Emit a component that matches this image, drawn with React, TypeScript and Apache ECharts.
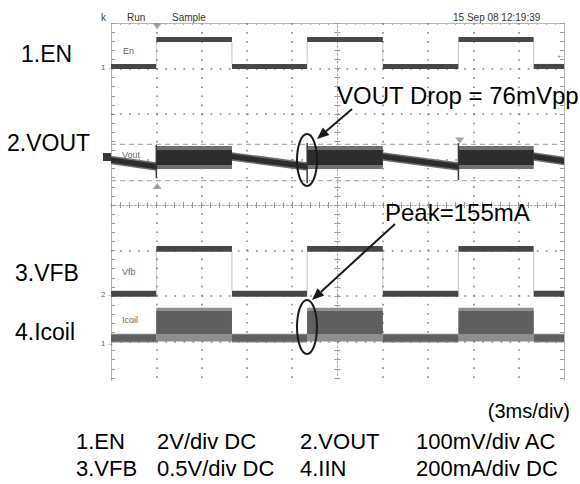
import React, { useEffect, useRef } from "react";
import * as echarts from "echarts";

// ---- data (x in divisions from screen centre, y in divisions from centre) ----
// switching edges (3 ms/div): EN high -> converter on
const edgeTimes = [-5, -4.0, -2.33, -0.67, 1.0, 2.67, 4.33, 5];
const levelStates = [0, 1, 0, 1, 0, 1, 0];

// trace levels as [top, bottom] of the noisy band
const enLow = [3.1, 2.99];
const enHigh = [3.69, 3.58];
const vfbLow = [-1.884, -2.015];
const vfbHigh = [-0.901, -1.026];
const icoilLowOuter = [-2.83, -3.02];
const icoilLowCore = [-2.85, -3.0];
const icoilHighOuter = [-2.26, -3.0];
const icoilHighCore = [-2.33, -2.835];

const voutSwitchOuter = [1.297, 0.791];
const voutSwitchCore = [1.209, 0.879];
// discharge slope: [xStart, levelStart, xEnd, levelEnd]
const voutDischarge = [
  [-5, 0.989, -4.0, 0.846],
  [-2.33, 1.066, -0.67, 0.846],
  [1.0, 1.066, 2.67, 0.846],
  [4.33, 1.066, 5, 0.967],
];
const voutHalfCore = 0.06;
const voutHalfOuter = 0.095;
// spikes at turn-on: [x, top, bottom]
const voutSpikes = [
  [-4.0, 1.32, 0.6],
  [-0.67, 1.36, 0.48],
  [2.67, 1.36, 0.55],
];
const cursorLevels = [1.334, 0.534];
const triggerMarks = [
  [-3.98, 3.93, 180],
  [-3.98, 0.42, 0],
  [2.7, 1.42, 180],
];
const gridDivX = [-4, -3, -2, -1, 1, 2, 3, 4];
const gridDivY = [3, 2, 1, -1, -2, -3];

const FONT = '"Liberation Sans", Arial, sans-serif';
const NARROW = '"Liberation Sans Narrow", "Liberation Sans", Arial, sans-serif';

function levelBands(low: number[], high: number[]) {
  const rows: number[][] = [];
  for (let i = 0; i < levelStates.length; i++) {
    const lv = levelStates[i] ? high : low;
    rows.push([edgeTimes[i], edgeTimes[i + 1], lv[0], lv[1], lv[0], lv[1]]);
  }
  return rows;
}
function highOnly(band: number[]) {
  const rows: number[][] = [];
  for (let i = 0; i < levelStates.length; i++) {
    if (levelStates[i]) rows.push([edgeTimes[i], edgeTimes[i + 1], band[0], band[1], band[0], band[1]]);
  }
  return rows;
}
function edgeRows(low: number[], high: number[]) {
  const rows: number[][] = [];
  for (let i = 1; i < edgeTimes.length - 1; i++) rows.push([edgeTimes[i], low[0], edgeTimes[i], high[1]]);
  return rows;
}
function dischargeRows(h: number) {
  return voutDischarge.map((d) => [d[0], d[2], d[1] + h, d[1] - h, d[3] + h, d[3] - h]);
}

function bandSeries(name: string, data: number[][], color: string, z: number) {
  return {
    type: "custom",
    name,
    data,
    z,
    silent: true,
    clip: true,
    renderItem: (_p: any, api: any) => {
      const a = api.coord([api.value(0), api.value(2)]);
      const b = api.coord([api.value(1), api.value(4)]);
      const c = api.coord([api.value(1), api.value(5)]);
      const d = api.coord([api.value(0), api.value(3)]);
      return { type: "polygon", shape: { points: [a, b, c, d] }, style: { fill: color } };
    },
  };
}
function segSeries(name: string, data: number[][], stroke: string, width: number, z: number, dash?: number[]) {
  return {
    type: "custom",
    name,
    data,
    z,
    silent: true,
    clip: false,
    renderItem: (_p: any, api: any) => {
      const p0 = api.coord([api.value(0), api.value(1)]);
      const p1 = api.coord([api.value(2), api.value(3)]);
      return {
        type: "line",
        shape: { x1: p0[0], y1: p0[1], x2: p1[0], y2: p1[1] },
        style: { stroke, lineWidth: width, lineDash: dash || null },
      };
    },
  };
}

function txt(text: string, x: number, y: number, size: number, fill: string, align = "left", family = FONT) {
  return {
    type: "text",
    x,
    y,
    z: 120,
    silent: true,
    style: {
      text,
      fill,
      font: `${size}px ${family}`,
      textAlign: align,
      textVerticalAlign: "middle",
      align,
      verticalAlign: "middle",
    },
  };
}
function arrow(x1: number, y1: number, x2: number, y2: number) {
  const dx = x2 - x1, dy = y2 - y1;
  const len = Math.sqrt(dx * dx + dy * dy);
  const ux = dx / len, uy = dy / len;
  const bx = x2 - 12 * ux, by = y2 - 12 * uy;
  const nx = -uy, ny = ux;
  return [
    { type: "line", z: 120, silent: true, shape: { x1, y1, x2: bx, y2: by }, style: { stroke: "#1a1a1a", lineWidth: 2 } },
    {
      type: "polygon",
      z: 120,
      silent: true,
      shape: { points: [[x2, y2], [bx + 5 * nx, by + 5 * ny], [bx - 5 * nx, by - 5 * ny]] },
      style: { fill: "#1a1a1a" },
    },
  ];
}

const axisCommonX = {
  type: "value",
  min: -5,
  max: 5,
  interval: 0.2,
  axisLabel: { show: false },
  splitLine: { show: false },
};
const axisCommonY = {
  type: "value",
  min: -4,
  max: 4,
  interval: 0.2,
  axisLabel: { show: false },
  splitLine: { show: false },
};
const borderColor = "#b4b4b4";
const centreLine = { color: "#a0a0a0", type: [1, 3] };

const option: any = {
  animation: false,
  backgroundColor: "#ffffff",
  grid: { left: 111, top: 23, width: 453, height: 364, containLabel: false },
  xAxis: [
    {
      ...axisCommonX,
      position: "bottom",
      axisLine: { show: true, onZero: true, lineStyle: centreLine },
      axisTick: { show: true, inside: true, length: 3, lineStyle: { color: "#999999" } },
    },
    {
      ...axisCommonX,
      position: "top",
      axisLine: { show: true, onZero: true, lineStyle: centreLine },
      axisTick: { show: true, inside: true, length: 3, lineStyle: { color: "#999999" } },
    },
    {
      ...axisCommonX,
      position: "top",
      axisLine: { show: true, onZero: false, lineStyle: { color: borderColor } },
      axisTick: { show: true, inside: true, length: 2, lineStyle: { color: "#aaaaaa" } },
    },
  ],
  yAxis: [
    {
      ...axisCommonY,
      position: "left",
      axisLine: { show: true, onZero: false, lineStyle: { color: borderColor } },
      axisTick: { show: true, inside: true, length: 4, lineStyle: { color: "#999999" } },
    },
    {
      ...axisCommonY,
      position: "right",
      axisLine: { show: true, onZero: false, lineStyle: { color: borderColor } },
      axisTick: { show: true, inside: true, length: 4, lineStyle: { color: "#999999" } },
    },
    {
      ...axisCommonY,
      position: "left",
      axisLine: { show: true, onZero: true, lineStyle: centreLine },
      axisTick: { show: true, inside: true, length: 3, lineStyle: { color: "#999999" } },
    },
    {
      ...axisCommonY,
      position: "right",
      axisLine: { show: true, onZero: true, lineStyle: centreLine },
      axisTick: { show: true, inside: true, length: 3, lineStyle: { color: "#999999" } },
    },
  ],
  series: [
    {
      type: "line",
      name: "graticule",
      data: [],
      silent: true,
      z: 1,
      markLine: {
        silent: true,
        symbol: ["none", "none"],
        label: { show: false },
        animation: false,
        lineStyle: { color: "#858585", width: 1.6, type: [1.6, 7.46] },
        emphasis: { disabled: true },
        data: [...gridDivX.map((x) => ({ xAxis: x })), ...gridDivY.map((y) => ({ yAxis: y }))],
      },
    },
    segSeries("cursors", cursorLevels.map((y) => [-5, y, 5, y]), "#9c9c9c", 1, 2, [5, 4]),
    // transitions
    segSeries("en-edges", edgeRows(enLow, enHigh), "#c4c4c4", 1, 3),
    segSeries("vfb-edges", edgeRows(vfbLow, vfbHigh), "#c4c4c4", 1, 3),
    segSeries("icoil-edges", edgeRows(icoilLowCore, icoilHighCore), "#c4c4c4", 1, 3),
    // EN
    bandSeries("EN", levelBands(enLow, enHigh), "#474747", 5),
    // VFB
    bandSeries("VFB", levelBands(vfbLow, vfbHigh), "#474747", 5),
    // Icoil
    bandSeries("Icoil outer", levelBands(icoilLowOuter, icoilHighOuter), "#8e8e8e", 4),
    bandSeries("Icoil", levelBands(icoilLowCore, icoilHighCore), "#5f5f5f", 5),
    // VOUT
    bandSeries("VOUT outer", [...highOnly(voutSwitchOuter), ...dischargeRows(voutHalfOuter)], "#707070", 4),
    bandSeries("VOUT", [...highOnly(voutSwitchCore), ...dischargeRows(voutHalfCore)], "#2c2c2c", 5),
    segSeries("VOUT spikes", voutSpikes.map((s) => [s[0], s[1], s[0], s[2]]), "#3a3a3a", 1.5, 6),
    {
      type: "scatter",
      name: "markers",
      silent: true,
      z: 7,
      data: triggerMarks.map((m) => ({ value: [m[0], m[1]], symbolRotate: m[2] })),
      symbol: "triangle",
      symbolSize: [9, 6],
      itemStyle: { color: "#8e8e8e" },
    },
  ],
  graphic: [
    // crop of the scope screen bottom
    { type: "rect", z: 100, silent: true, shape: { x: 95, y: 381, width: 480, height: 10 }, style: { fill: "#ffffff" } },
    // scope header
    txt("k", 101, 17, 10, "#444", "left", NARROW),
    txt("Run", 127, 17, 10, "#333", "left", NARROW),
    txt("Sample", 172, 17, 10, "#333", "left", NARROW),
    txt("15 Sep 08 12:19:39", 453, 17, 10, "#333", "left", NARROW),
    txt("←", 556, 54, 10, "#555", "left"),
    // channel ground markers
    txt("1→", 101, 67, 8, "#666", "left"),
    txt("2→", 101, 294, 8, "#666", "left"),
    txt("1→", 101, 343, 8, "#666", "left"),
    { type: "rect", z: 110, silent: true, shape: { x: 103, y: 153, width: 8, height: 8 }, style: { fill: "#3a3a3a" } },
    // in-screen trace names
    txt("En", 123, 51, 9, "#666"),
    txt("Vout", 122, 155, 9, "#666"),
    txt("Vfb", 122, 272, 9, "#666"),
    txt("Icoil", 122, 320, 9, "#666"),
    // left labels
    txt("1.EN", 21, 54, 23, "#000"),
    txt("2.VOUT", 7, 143, 23, "#000"),
    txt("3.VFB", 15, 273, 23, "#000"),
    txt("4.Icoil", 15, 332, 23, "#000"),
    // annotations
    txt("VOUT Drop = 76mVpp", 337, 95, 24, "#000"),
    txt("Peak=155mA", 385, 212, 24, "#000"),
    ...arrow(352, 109, 317, 139),
    ...arrow(395, 224, 312, 300),
    { type: "ellipse", z: 120, silent: true, shape: { cx: 307, cy: 160, rx: 10, ry: 26 }, style: { fill: "none", stroke: "#1a1a1a", lineWidth: 2 } },
    { type: "ellipse", z: 120, silent: true, shape: { cx: 307, cy: 327, rx: 10, ry: 27 }, style: { fill: "none", stroke: "#1a1a1a", lineWidth: 2 } },
    // bottom caption
    txt("(3ms/div)", 570, 411, 20, "#000", "right"),
    txt("1.EN", 76, 441, 22, "#000"),
    txt("2V/div DC", 157, 441, 22, "#000"),
    txt("2.VOUT", 300, 441, 22, "#000"),
    txt("100mV/div AC", 416, 441, 22, "#000"),
    txt("3.VFB", 76, 468, 22, "#000"),
    txt("0.5V/div DC", 157, 468, 22, "#000"),
    txt("4.IIN", 300, 468, 22, "#000"),
    txt("200mA/div DC", 416, 468, 22, "#000"),
  ],
};

export default function App() {
  const ref = useRef<HTMLDivElement>(null);
  useEffect(() => {
    if (!ref.current) return;
    const chart = echarts.init(ref.current, null, { renderer: "svg" });
    chart.setOption(option);
    return () => chart.dispose();
  }, []);
  return (
    <div
      ref={ref}
      style={{ position: "absolute", left: 0, top: 0, width: 580, height: 484, background: "#fff" }}
    />
  );
}
